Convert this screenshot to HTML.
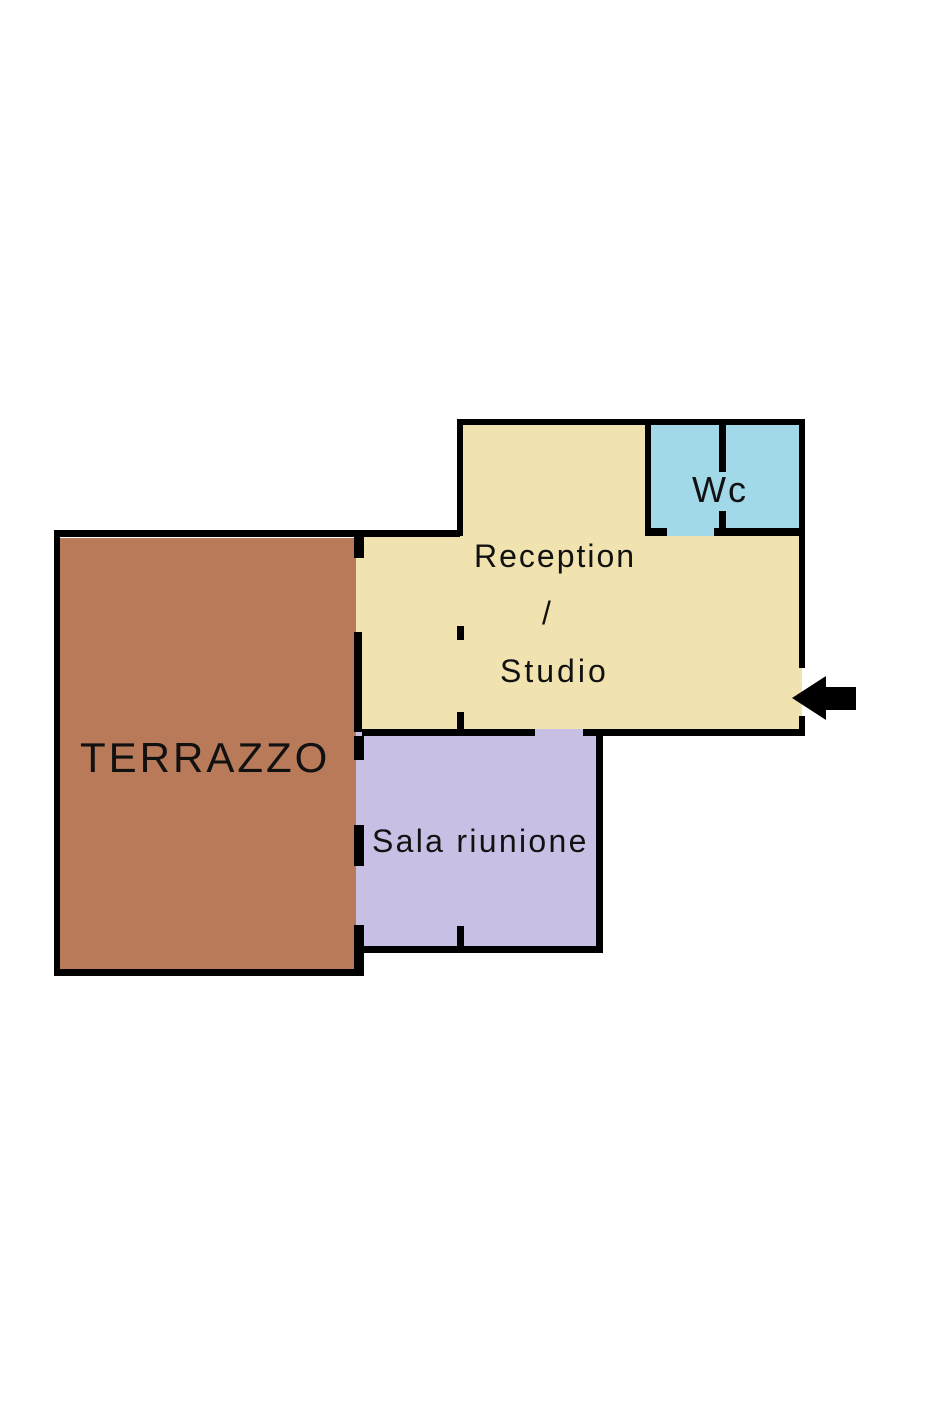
<!DOCTYPE html>
<html><head><style>
body{margin:0;width:943px;height:1414px;background:#fff;position:relative;overflow:hidden;font-family:"Liberation Sans",sans-serif}
div{position:absolute}
.k{background:#000}
.t{color:#111;white-space:nowrap;line-height:1}
</style></head><body>
<!-- fills -->
<div style="left:60px;top:538px;width:296px;height:432px;background:#b87a58"></div>
<div style="left:356px;top:536px;width:446px;height:196px;background:#f0e3b0"></div>
<div style="left:460px;top:423px;width:188px;height:115px;background:#f0e3b0"></div>
<div style="left:648px;top:423px;width:154px;height:113px;background:#a1d9e8"></div>
<div style="left:356px;top:729px;width:244px;height:220px;background:#c8c0e4"></div>
<!-- terrazzo walls -->
<div class="k" style="left:54px;top:530px;width:6px;height:446px"></div>
<div class="k" style="left:54px;top:530px;width:406px;height:7px"></div>
<div class="k" style="left:54px;top:969px;width:310px;height:7px"></div>
<div class="k" style="left:354px;top:536px;width:10px;height:22px"></div>
<div class="k" style="left:354px;top:632px;width:8px;height:100px"></div>
<div class="k" style="left:354px;top:736px;width:10px;height:24px"></div>
<div class="k" style="left:354px;top:825px;width:10px;height:41px"></div>
<div class="k" style="left:354px;top:925px;width:10px;height:50px"></div>
<!-- reception -->
<div class="k" style="left:457px;top:419px;width:348px;height:6px"></div>
<div class="k" style="left:457px;top:419px;width:6px;height:117px"></div>
<div class="k" style="left:799px;top:419px;width:6px;height:249px"></div>
<div class="k" style="left:799px;top:716px;width:6px;height:20px"></div>
<div class="k" style="left:362px;top:729px;width:173px;height:7px"></div>
<div class="k" style="left:583px;top:729px;width:222px;height:7px"></div>
<div class="k" style="left:457px;top:626px;width:7px;height:14px"></div>
<div class="k" style="left:457px;top:712px;width:7px;height:20px"></div>
<!-- wc -->
<div class="k" style="left:645px;top:419px;width:6px;height:117px"></div>
<div class="k" style="left:645px;top:528px;width:22px;height:8px"></div>
<div class="k" style="left:714px;top:528px;width:91px;height:8px"></div>
<div class="k" style="left:719px;top:423px;width:7px;height:85px"></div>
<div class="k" style="left:719px;top:511px;width:7px;height:20px"></div>
<!-- sala -->
<div class="k" style="left:596px;top:732px;width:7px;height:221px"></div>
<div class="k" style="left:362px;top:946px;width:241px;height:7px"></div>
<div class="k" style="left:457px;top:926px;width:7px;height:22px"></div>
<!-- arrow -->
<svg style="position:absolute;left:0;top:0" width="943" height="1414"><polygon points="792,698 826,676 826,687 856,687 856,710 826,710 826,720" fill="#000"/></svg>
<!-- labels -->
<div class="t" style="left:80px;top:737px;font-size:42px;letter-spacing:3px">TERRAZZO</div>
<div class="t" style="left:474px;top:540px;font-size:32px;letter-spacing:2px">Reception</div>
<div class="t" style="left:542px;top:597px;font-size:32px">/</div>
<div class="t" style="left:500px;top:655px;font-size:32px;letter-spacing:3px">Studio</div>
<div class="t" style="left:692px;top:472px;font-size:36px;letter-spacing:2px;background:#a1d9e8">Wc</div>
<div class="t" style="left:372px;top:825px;font-size:32px;letter-spacing:2.3px">Sala riunione</div>
</body></html>
